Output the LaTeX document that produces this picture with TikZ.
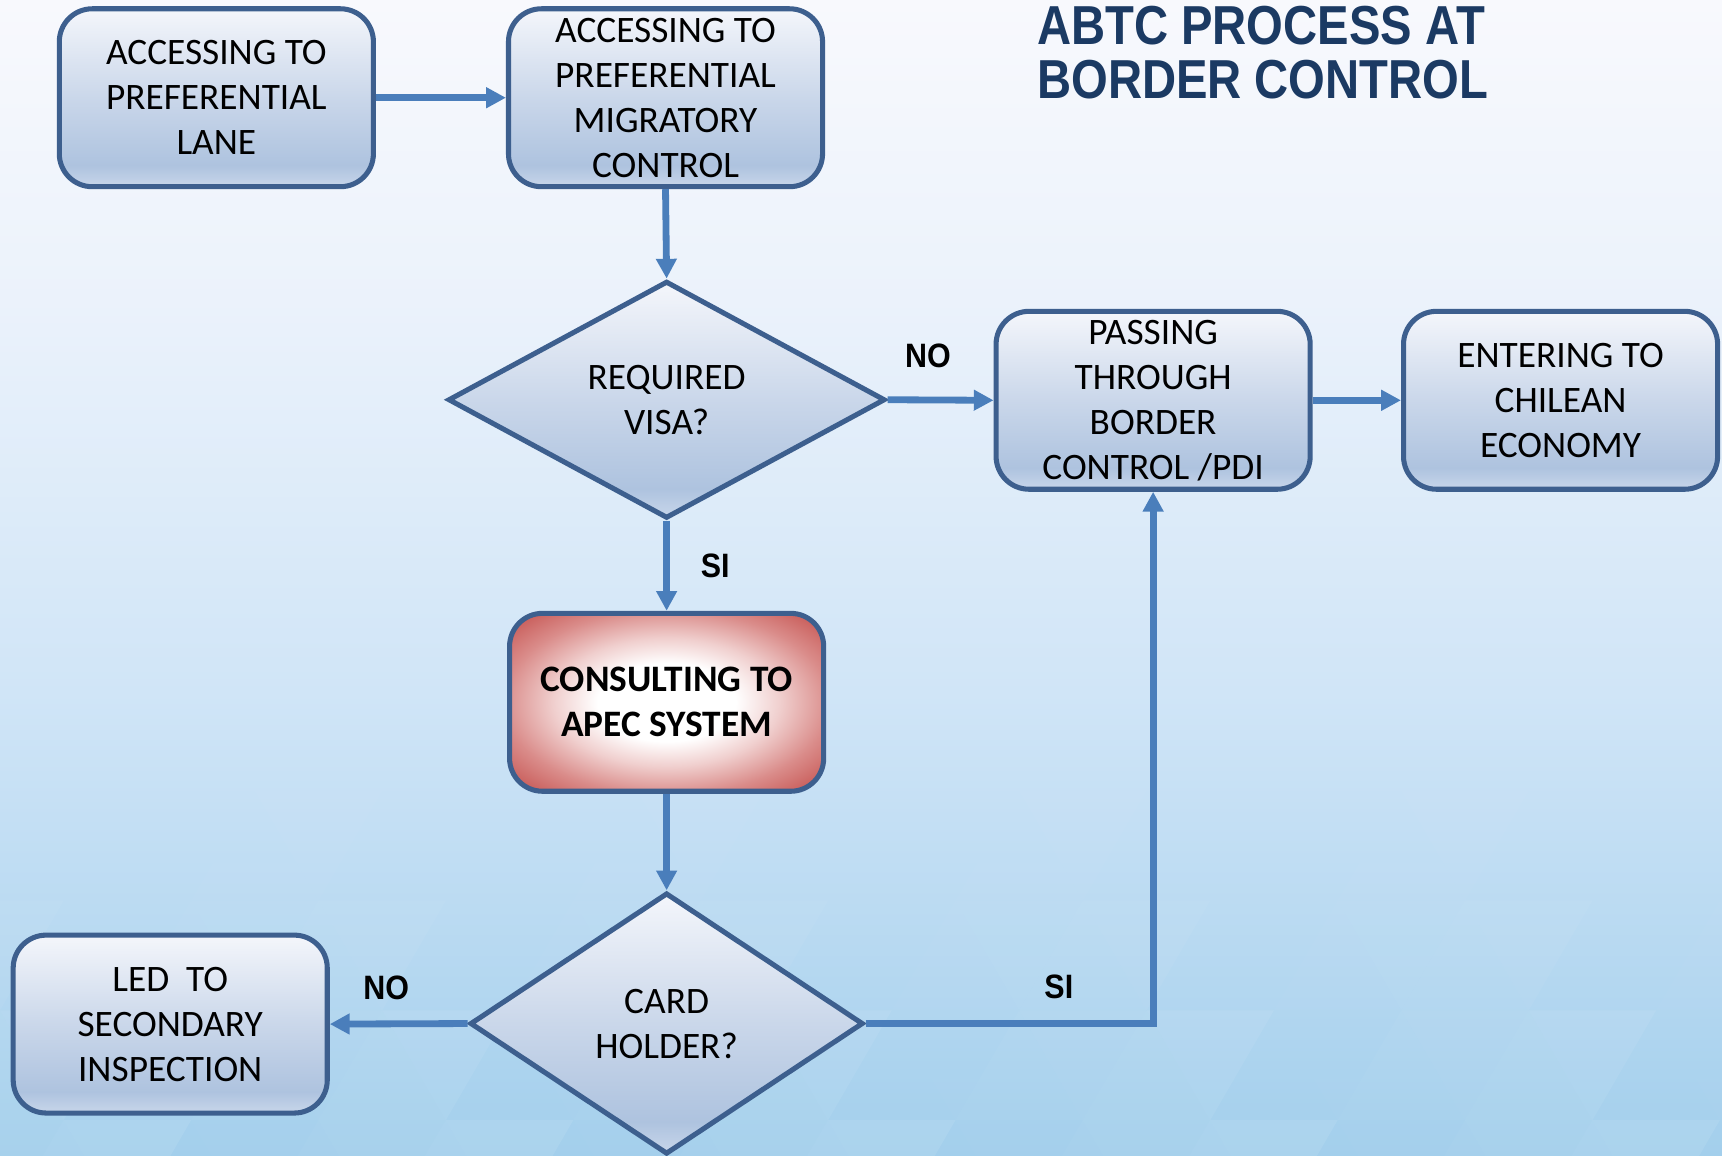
\documentclass[tikz,border=0pt]{standalone}
\usepackage{fontspec}
\setmainfont{Carlito}
\newfontfamily\titlefont{Liberation Sans}[FakeStretch=0.86]
\newfontfamily\lblfont{Liberation Sans}[FakeStretch=0.9]
\usetikzlibrary{shapes.geometric,arrows.meta}
\definecolor{bxA}{HTML}{F4F6FB}
\definecolor{bxB}{HTML}{CAD7EA}
\definecolor{bxC}{HTML}{AEC3DF}
\definecolor{bxD}{HTML}{C8D6EA}
\definecolor{bordc}{HTML}{3D5F8E}
\definecolor{arrc}{HTML}{4A7EBB}
\definecolor{titlec}{HTML}{1B3A63}
\definecolor{rdA}{HTML}{F0CFCE}
\definecolor{rdB}{HTML}{DA8C8A}
\definecolor{rdC}{HTML}{C4504D}
\definecolor{bgA}{HTML}{F8F9FD}
\definecolor{bgB}{HTML}{EBF2FB}
\definecolor{bgC}{HTML}{D0E5F7}
\definecolor{bgD}{HTML}{A3CFEC}
\pgfdeclareverticalshading{boxshade}{100bp}{color(0bp)=(bxD); color(25bp)=(bxD); color(31bp)=(bxC); color(50bp)=(bxB); color(75bp)=(bxA); color(100bp)=(bxA)}
\pgfdeclareradialshading{redglow}{\pgfpoint{0bp}{0bp}}{color(0bp)=(white); color(11bp)=(white); color(18bp)=(rdA); color(26bp)=(rdB); color(35bp)=(rdC); color(50bp)=(rdC)}
\pgfdeclareverticalshading{bgshade}{100bp}{color(0bp)=(bgD); color(25bp)=(bgD); color(45bp)=(bgC); color(62bp)=(bgB); color(75bp)=(bgA); color(100bp)=(bgA)}
\tikzset{
  procbox/.style={draw=bordc, line width=2.3pt, rounded corners=15pt, shading=boxshade,
    minimum width=143pt, minimum height=81pt, inner sep=0pt, align=center,
    font=\fontsize{17}{20.5}\selectfont, text=black},
  redbox/.style={procbox, shading=redglow, font=\bfseries\fontsize{17}{20.5}\selectfont},
  decision/.style={draw=bordc, line width=2.3pt, diamond, aspect=2, shading=boxshade,
    inner sep=0pt, align=center, font=\fontsize{17}{20.5}\selectfont, text=black},
  arr/.style={draw=arrc, line width=3.1pt, -{Triangle[length=9pt,width=9pt]}},
  lbl/.style={inner sep=0pt, font=\lblfont\bfseries\fontsize{15.4}{18}\selectfont, text=black}
}
\begin{document}
\begin{tikzpicture}[x=0.5pt, y=-0.5pt]
\useasboundingbox (0,0) rectangle (1568,1052);
\begin{scope}
\clip (0,0) rectangle (1568,1052);
\shade[shading=bgshade] (0,0) rectangle (1568,1052);
\foreach \r in {0,1,2,3}{
  \foreach \c in {0,...,27}{
    \pgfmathtruncatemacro\kk{mod(\c*7+\r*11,6)}
    \pgfmathsetmacro\op{(\r+1)*0.022*\kk/5}
    \pgfmathtruncatemacro\pp{mod(\c+\r,2)}
    \pgfmathsetmacro\xa{\c*58-58}
    \pgfmathsetmacro\ya{720+\r*100}
    \ifnum\pp=0
      \fill[white, fill opacity=\op] (\xa,\ya+100) -- (\xa+58,\ya) -- (\xa+116,\ya+100) -- cycle;
    \else
      \fill[white, fill opacity=\op] (\xa,\ya) -- (\xa+58,\ya+100) -- (\xa+116,\ya) -- cycle;
    \fi
  }}
\end{scope}

\node[anchor=south west, inner sep=0pt, align=left, text=titlec,
  font=\titlefont\bfseries\fontsize{25}{25}\selectfont] (title) at (944,91)
  {ABTC PROCESS AT\\BORDER CONTROL};

\node[procbox] (b1) at (197,89) {ACCESSING TO\\PREFERENTIAL\\LANE};
\node[procbox] (b2) at (606,89) {ACCESSING TO\\PREFERENTIAL\\MIGRATORY\\CONTROL};
\node[decision, minimum width=199pt, minimum height=108pt] (d1) at (607,364) {REQUIRED\\VISA?};
\node[procbox] (b3) at (1050,364.5) {PASSING\\THROUGH\\BORDER\\CONTROL /PDI};
\node[procbox] (b4) at (1421,364.5) {ENTERING TO\\CHILEAN\\ECONOMY};
\node[redbox] (b5) at (607,639.5) {CONSULTING TO\\APEC SYSTEM};
\node[decision, minimum width=179pt, minimum height=119pt] (d2) at (607,932) {CARD\\HOLDER?};
\node[procbox] (b6) at (155,932.5) {LED~~TO\\SECONDARY\\INSPECTION};

\draw[arr] (b1.east) -- (b2.west);
\draw[arr] (b2.south) -- (d1.north);
\draw[arr] (d1.east) -- node[lbl, pos=0.38, above=13pt] {NO} (b3.west);
\draw[arr] (b3.east) -- (b4.west);
\draw[arr] (d1.south) -- node[lbl, pos=0.5, right=14pt] {SI} (b5.north);
\draw[arr] (b5.south) -- (d2.north);
\draw[arr] (d2.west) -- node[lbl, pos=0.59, above=9.5pt] {NO} (b6.east);
\draw[arr] (d2.east) -| node[lbl, pos=0.336, above=9.5pt] {SI} (b3.south);
\end{tikzpicture}
\end{document}
